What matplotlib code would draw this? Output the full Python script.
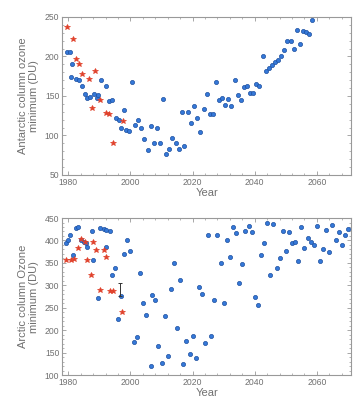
import matplotlib
matplotlib.use("Agg")
import matplotlib.pyplot as plt
from matplotlib.ticker import MultipleLocator

# ---------------- data ----------------
ant_obs_year = [1979.5, 1981.5, 1982.5, 1983.5, 1984.5, 1986.5, 1988.5, 1987.5, 1990.3, 1992, 1993, 1994.5, 1997.5]
ant_obs_val = [237, 222, 197, 190, 178, 171, 181, 135, 145, 128, 127, 90, 118]

ant_mod_year = [1979.5, 1980.5, 1981.1, 1980.8, 1982.5, 1983.5, 1984.5, 1985.5, 1986, 1987, 1988.1, 1989.2,
                1989.5, 1990.5, 1992, 1993, 1994.1, 1995.2, 1996.3, 1997, 1998, 1998.5, 1999.5, 2000.5,
                2001.5, 2002.5, 2003.5, 2004.5, 2005.5, 2006.5, 2007.5, 2008.5, 2009.5, 2010.5, 2011.5,
                2012.5, 2013.5, 2014.5, 2015.5, 2017.3, 2016.5, 2018.5, 2019.5, 2020.5, 2021.5, 2022.5,
                2023.5, 2024.5, 2025.5, 2026.5, 2027.5, 2028.5, 2029.5, 2030.5, 2031.5, 2032.5, 2033.5,
                2034.5, 2035.5, 2036.5, 2037.5, 2038.5, 2039.5, 2040.5, 2041.5, 2042.5, 2043.5, 2044.5,
                2045.5, 2046.5, 2047.5, 2048.5, 2049.5, 2050.5, 2051.5, 2052.5, 2053.5, 2054.5, 2055.5,
                2056.5, 2057.5, 2058.5]
ant_mod_val = [206, 206, 191, 174, 172, 170, 162, 153, 147, 149, 152, 147,
               151, 170, 162, 143, 145, 122, 120, 109, 132, 107, 105, 167,
               113, 119, 109, 95, 81, 112, 90, 110, 91, 146, 76,
               83, 97, 91, 83, 86, 130, 130, 116, 137, 122, 104,
               133, 152, 127, 127, 167, 145, 147, 139, 146, 137, 170,
               151, 145, 161, 163, 154, 154, 165, 163, 200, 182, 185,
               189, 193, 196, 200, 208, 220, 220, 210, 233, 216, 232,
               231, 229, 246]

arc_obs_year = [1979.3, 1981, 1981.8, 1983.2, 1984, 1985.4, 1986, 1987.2, 1988, 1989, 1990.3, 1991.4,
                1992, 1993.3, 1994.4, 1997.3]
arc_obs_val = [356, 356, 359, 383, 403, 397, 356, 323, 397, 379, 290, 379,
               364, 287, 287, 241]

arc_mod_year = [1979.2, 1980, 1980.5, 1981.6, 1982.4, 1983.2, 1984, 1984.9, 1985.6, 1986, 1987.6, 1987.9,
                1989.5, 1990.3, 1991.4, 1992, 1992.2, 1993.3, 1994, 1995, 1997, 1996, 1998, 1999,
                2000, 2001, 2002, 2003, 2004, 2005, 2006.5, 2007, 2008, 2009, 2010, 2011, 2012,
                2013, 2014, 2015, 2016, 2016.8, 2018, 2019, 2020, 2021, 2022, 2023, 2024, 2025,
                2026, 2027, 2028, 2029, 2030, 2031, 2032, 2033, 2034, 2035, 2036, 2037, 2038,
                2039, 2040, 2041, 2042, 2043, 2044, 2046, 2045, 2047, 2048, 2049, 2050, 2051,
                2052, 2053, 2054, 2055, 2056, 2057, 2058, 2059, 2060, 2061, 2062, 2063, 2064,
                2065, 2066, 2067, 2068, 2069, 2070]
arc_mod_val = [394, 402, 412, 368, 427, 429, 402, 397, 395, 386, 422, 356,
               273, 427, 425, 423, 386, 422, 323, 338, 276, 226, 370, 401,
               377, 174, 185, 328, 260, 235, 121, 278, 267, 165, 128, 232, 142,
               293, 349, 206, 312, 125, 177, 148, 187, 139, 297, 280, 172, 412,
               187, 267, 412, 350, 260, 400, 364, 431, 417, 306, 348, 422, 432,
               419, 275, 256, 368, 395, 438, 436, 323, 338, 360, 422, 377, 419,
               394, 397, 354, 429, 383, 405, 397, 390, 432, 355, 380, 423, 375,
               434, 400, 419, 390, 412, 425]

arc_err_year = [1996.5]
arc_err_center = [291]
arc_err_half = [14]

ant_yticks = [50, 100, 150, 200, 250]
arc_yticks = [100, 150, 200, 250, 300, 350, 400, 450]
xticks = [1980, 2000, 2020, 2040, 2060]

# ---------------- style ----------------
plt.rcParams['font.family'] = ['Liberation Sans', 'DejaVu Sans']
GRAY = '#707070'
BLUE = '#3578d8'
RED = '#e0402a'

fig = plt.figure(figsize=(3.55, 4.03), dpi=100)
ax1 = fig.add_axes([0.175, 0.566, 0.814, 0.392])
ax2 = fig.add_axes([0.175, 0.069, 0.814, 0.390])


def style(ax, yticks, ylim, ylabel, minor):
    ax.set_xlim(1978, 2071)
    ax.set_ylim(*ylim)
    ax.set_xticks(xticks)
    ax.set_yticks(yticks)
    ax.xaxis.set_minor_locator(MultipleLocator(4))
    ax.yaxis.set_minor_locator(MultipleLocator(minor))
    ax.tick_params(which='both', direction='in', top=True, right=True,
                   colors='#999999', labelcolor=GRAY, labelsize=6.2, pad=2)
    ax.tick_params(which='major', length=3, width=0.6)
    ax.tick_params(which='minor', length=1.5, width=0.5)
    for s in ax.spines.values():
        s.set_color('#999999')
        s.set_linewidth(0.8)
    ax.set_xlabel('Year', fontsize=8, color=GRAY, labelpad=1)
    ax.set_ylabel(ylabel, fontsize=8, color=GRAY, labelpad=4, linespacing=1.1)


ax1.plot(ant_mod_year, ant_mod_val, linestyle='none', marker='o', markersize=3.0,
         markerfacecolor=BLUE, markeredgecolor='#1d4f9e', markeredgewidth=0.5, zorder=3)
ax1.plot(ant_obs_year, ant_obs_val, linestyle='none', marker='*', markersize=4.0,
         color=RED, markeredgewidth=0.5, zorder=4)
style(ax1, ant_yticks, (50, 250), 'Antarctic column ozone\nminimum (DU)', 10)

ax2.plot(arc_mod_year, arc_mod_val, linestyle='none', marker='o', markersize=3.0,
         markerfacecolor=BLUE, markeredgecolor='#1d4f9e', markeredgewidth=0.5, zorder=3)
ax2.plot(arc_obs_year, arc_obs_val, linestyle='none', marker='*', markersize=4.0,
         color=RED, markeredgewidth=0.5, zorder=4)
ax2.errorbar(arc_err_year, arc_err_center, yerr=arc_err_half, fmt='none',
             ecolor='#333333', elinewidth=0.7, capsize=1.5, capthick=0.7, zorder=5)
style(ax2, arc_yticks, (100, 450), 'Arctic column Ozone\nminimum (DU)', 10)

fig.savefig('out.png', dpi=100)
